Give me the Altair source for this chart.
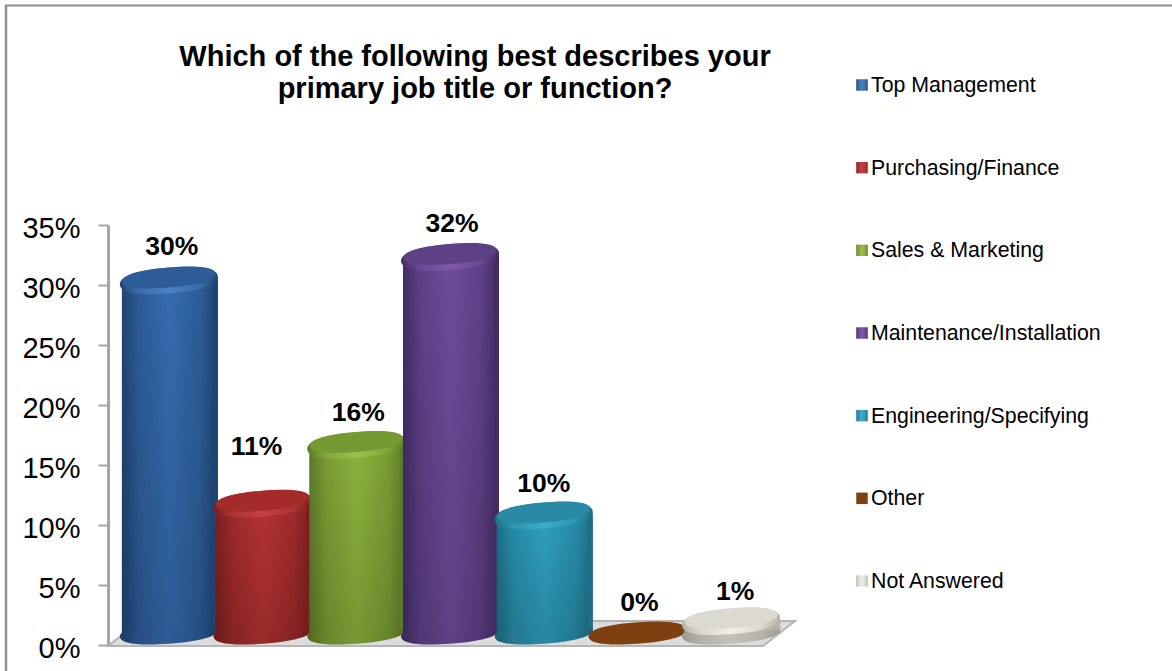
import altair as alt
import pandas as pd

FONT = "Liberation Sans"

categories = ["Top Management", "Purchasing/Finance", "Sales & Marketing",
              "Maintenance/Installation", "Engineering/Specifying", "Other", "Not Answered"]
shares = [30, 11, 16, 32, 10, 0, 1]
share_labels = ["30%", "11%", "16%", "32%", "10%", "0%", "1%"]

# Colour ramps per category: side edge, side centre, top face, top rim
edge_colors = ["#1f4472", "#7a1f1f", "#5e7a28", "#432c66", "#1c6f86", "#7e4010", "#b5b2a8"]
centre_colors = ["#356cb0", "#b53232", "#8cb23c", "#6f4c9b", "#2f9fbf", "#7e4010", "#e4e2d8"]
cap_colors = ["#2d5c99", "#a52b2b", "#769a33", "#5e4085", "#2a8aa6", "#7e4010", "#dcdad0"]
rim_colors = ["#4a83c8", "#c84040", "#9cc24a", "#8059ac", "#3aadcb", "#7e4010", "#f0efe8"]

# Label placement relative to each cylinder top
label_lift = [-34, -57, -32, -33, -32, -30, -29]
label_shift = [3, -6, 2, 2, 0, 2, 4]

floor_x = [0, 32, 655, 687]
floor_top = [-1, 24, 24, 24]
floor_bottom = [-1, -1, -1, 24]

BAR_WIDTH = 98


def sheared_ellipse(height, tilt, k=0.64):
    """Rounded ellipse with tips at x=+-1, sheared so the right tip sits higher."""
    pts = [(-1, 0), (-1, -k * height), (-k, -height), (0, -height),
           (k, -height), (1, -k * height), (1, 0),
           (1, k * height), (k, height), (0, height),
           (-k, height), (-1, k * height), (-1, 0)]
    sheared = [(x, y - tilt * x) for x, y in pts]
    parts = [f"M{sheared[0][0]:.3f},{sheared[0][1]:.3f}"]
    for i in range(1, len(sheared), 3):
        a, b, c = sheared[i:i + 3]
        parts.append(f"C{a[0]:.3f},{a[1]:.3f},{b[0]:.3f},{b[1]:.3f},{c[0]:.3f},{c[1]:.3f}")
    return "".join(parts) + "Z"


RIM_SHAPE = sheared_ellipse(0.265, 0.08)
CAP_SHAPE = sheared_ellipse(0.215, 0.08)
FOOT_SHAPE = sheared_ellipse(0.22, 0.07)


def mix(a, b, t):
    ca = [int(a[j:j + 2], 16) for j in (1, 3, 5)]
    cb = [int(b[j:j + 2], 16) for j in (1, 3, 5)]
    return "#" + "".join(f"{round(x + (y - x) * t):02x}" for x, y in zip(ca, cb))


def side_gradient(edge, centre):
    return alt.Gradient(
        gradient="linear", x1=0, x2=1, y1=0, y2=0,
        stops=[alt.GradientStop(offset=0, color=edge),
               alt.GradientStop(offset=0.18, color=mix(edge, centre, 0.6)),
               alt.GradientStop(offset=0.5, color=centre),
               alt.GradientStop(offset=0.82, color=mix(edge, centre, 0.6)),
               alt.GradientStop(offset=1, color=edge)],
    )


darken = alt.Gradient(
    gradient="linear", x1=0, x2=0, y1=0, y2=1,
    stops=[alt.GradientStop(offset=0, color="rgba(0,0,0,0)"),
           alt.GradientStop(offset=1, color="rgba(0,0,0,0.14)")],
)

x_cyl = alt.X("category:N", sort=categories, axis=None,
              scale=alt.Scale(domain=categories, range=[14, 670], paddingInner=0, paddingOuter=0))
# The cylinders stand slightly behind the axis plane, so they use their own vertical scale
cyl_scale = alt.Scale(domain=[0, 35], range=[408, -3.25])
y_cyl = alt.Y("share:Q", axis=None, scale=cyl_scale)
y_foot = alt.Y("zero:Q", axis=None, scale=cyl_scale)

cylinders = []
for i, name in enumerate(categories):
    row = pd.DataFrame({"category": [name], "share": [shares[i]], "zero": [0], "label": [share_labels[i]]})
    base = alt.Chart(row)
    side = side_gradient(edge_colors[i], centre_colors[i])
    rim = side_gradient(edge_colors[i], rim_colors[i])
    foot_mark = dict(shape=FOOT_SHAPE, size=BAR_WIDTH ** 2, filled=True, strokeWidth=0)
    cylinders += [
        base.mark_point(fill=side, opacity=1, **foot_mark).encode(x=x_cyl, y=y_foot),
    ]
    if shares[i] > 0:
        cylinders += [
            base.mark_point(fill="#000000", opacity=0.14, **foot_mark).encode(x=x_cyl, y=y_foot),
            # Side wall, with a narrow strip that reaches the raised right tip of the top face
            base.mark_bar(size=BAR_WIDTH - 2, xOffset=1, fill=side, strokeWidth=0).encode(x=x_cyl, y=y_cyl),
            base.mark_bar(size=BAR_WIDTH - 2, xOffset=1, fill=darken, strokeWidth=0).encode(x=x_cyl, y=y_cyl),
            base.mark_bar(size=5, xOffset=46.5, yOffset=-3.5, fill=edge_colors[i], strokeWidth=0).encode(x=x_cyl, y=y_cyl),
            base.mark_point(shape=RIM_SHAPE, size=BAR_WIDTH ** 2, filled=True, fill=rim, opacity=1, strokeWidth=0)
                .encode(x=x_cyl, y=y_cyl),
            base.mark_point(shape=CAP_SHAPE, size=(BAR_WIDTH - 5) ** 2, filled=True, fill=cap_colors[i], opacity=1,
                            strokeWidth=0, yOffset=-3)
                .encode(x=x_cyl, y=y_cyl),
        ]
    cylinders += [
        base.mark_text(font=FONT, fontSize=26.5, fontWeight="bold", color="#000000",
                       dy=label_lift[i], dx=label_shift[i])
            .encode(x=x_cyl, y=y_cyl, text="label:N"),
    ]
cylinder_layer = alt.layer(*cylinders)

# Left value axis
axis_frame = pd.DataFrame({"v": [0, 35]})
axis_layer = alt.Chart(axis_frame).mark_rule(opacity=0).encode(
    y=alt.Y("v:Q", scale=alt.Scale(domain=[0, 35], range=[420, 0], nice=False),
            axis=alt.Axis(title=None, values=[0, 5, 10, 15, 20, 25, 30, 35],
                          labelExpr="datum.value + '%'", grid=False,
                          labelFont=FONT, labelFontSize=29, labelColor="#000000", labelPadding=18,
                          labelOffset=3,
                          tickSize=10, tickColor="#a6a6a6", tickWidth=2,
                          domainColor="#a6a6a6", domainWidth=3)),
)

# Chart floor
floor = pd.DataFrame({"fx": floor_x, "top": floor_top, "bottom": floor_bottom})
floor_layer = alt.Chart(floor).mark_area(fill="#dcdcdc", stroke="#b4b4b4", strokeWidth=2, interpolate="linear").encode(
    x=alt.X("fx:Q", axis=None, scale=alt.Scale(domain=[0, 656], range=[0, 656], nice=False)),
    y=alt.Y("top:Q", axis=None, scale=alt.Scale(domain=[0, 420], range=[420, 0], nice=False)),
    y2="bottom:Q",
)

# Legend column
legend_layers = []
legend_y = alt.Y("category:N", axis=None, sort=categories,
                 scale=alt.Scale(type="point", domain=categories, range=[-140, 356], padding=0))
for i, name in enumerate(categories):
    row = pd.DataFrame({"category": [name]})
    swatch_fill = side_gradient(edge_colors[i], rim_colors[i])
    legend_layers += [
        alt.Chart(row).mark_point(shape="square", size=132, filled=True, fill=swatch_fill, opacity=1, strokeWidth=0)
            .encode(x=alt.value(754), y=legend_y),
        alt.Chart(row).mark_text(font=FONT, fontSize=21.3, align="left", baseline="middle", color="#000000", dy=1)
            .encode(x=alt.value(763), y=legend_y, text="category:N"),
    ]
legend_layer = alt.layer(*legend_layers)

# Outer frame: top and left edges
frame_row = pd.DataFrame({"k": [0]})
frame_top = alt.Chart(frame_row).mark_rule(color="#8e8e8e", strokeWidth=2).encode(
    x=alt.value(-103), x2=alt.value(1064), y=alt.value(-219.5))
frame_left = alt.Chart(frame_row).mark_rule(color="#8e8e8e", strokeWidth=2.5).encode(
    x=alt.value(-102), y=alt.value(-220), y2=alt.value(446))

chart = (
    alt.layer(frame_top, frame_left, axis_layer, floor_layer, cylinder_layer, legend_layer)
    .resolve_scale(x="independent", y="independent")
    .properties(
        width=656,
        height=420,
        padding={"left": 108, "top": 225, "right": 408, "bottom": 26},
        autosize=alt.AutoSizeParams(type="none"),
        background="#ffffff",
        title=alt.TitleParams(
            text=["Which of the following best describes your", "primary job title or function?"],
            font=FONT, fontSize=29, fontWeight="bold", color="#000000",
            anchor="middle", frame="group", dx=39, lineHeight=32, baseline="top", dy=100, offset=0,
        ),
    )
    .configure_view(strokeWidth=0)
)

chart.save("out.html", embed_options={"renderer": "svg", "actions": False})
